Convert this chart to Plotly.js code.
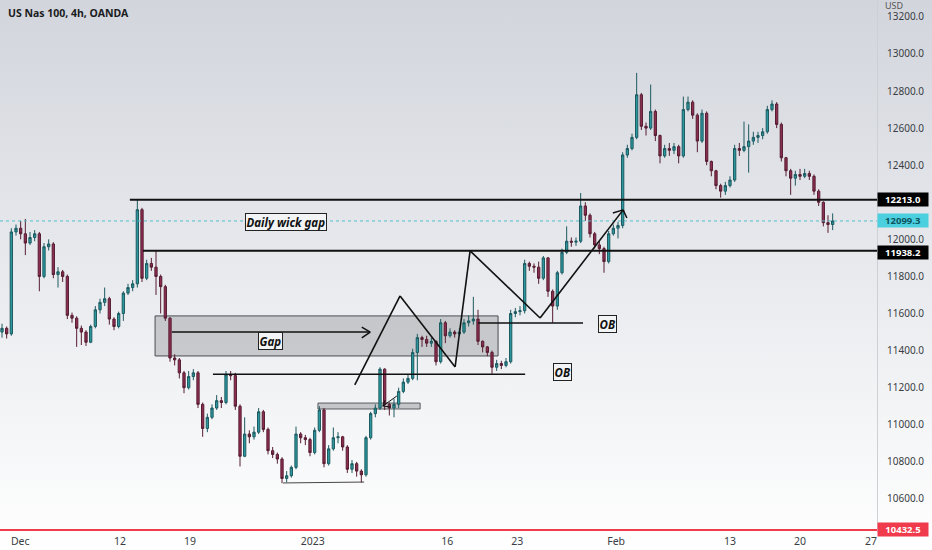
<!DOCTYPE html>
<html>
<head>
<meta charset="utf-8">
<script src="https://cdn.plot.ly/plotly-3.0.1.min.js"></script>
<style>
  html, body { margin:0; padding:0; }
  body { width:932px; height:550px; background: linear-gradient(#d2d5dc 0%, #e6e8ec 45%, #ffffff 100%); overflow:hidden; }
  #chart { width:932px; height:550px; }
</style>
</head>
<body>
<div id="chart"></div>
<script>
// ---- Data (US Nas 100, 4h, OANDA) ----
const firstOpen = 11500;
const closes = [
11520,11490,12040,12060,12030,11980,12010,12030,11800,11960,
11975,11810,11825,11800,11590,11575,11520,11500,11445,11530,
11620,11660,11680,11570,11530,11600,11710,11740,11760,12160,
11790,11870,11850,11800,11745,11575,11360,11350,11280,11200,
11260,11280,11110,10980,11040,11090,11130,11120,11270,11265,
11100,10830,10950,10935,10960,11070,10975,10860,10840,10815,
10710,10725,10770,10950,10930,10920,10850,10970,11080,10790,
10870,10930,10935,10880,10760,10790,10750,10730,10930,11060,
11090,11300,11110,11090,11110,11180,11230,11250,11390,11470,
11460,11440,11450,11340,11550,11480,11500,11490,11500,11550,
11560,11570,11450,11420,11390,11310,11330,11320,11340,11600,
11610,11615,11870,11855,11850,11790,11900,11720,11640,11820,
11930,11990,11985,11990,12180,12130,12030,11970,11950,11880,
12030,12060,12075,12455,12490,12550,12780,12610,12600,12690,
12560,12450,12490,12480,12500,12450,12700,12740,12670,12530,
12680,12420,12370,12290,12260,12290,12320,12490,12480,12500,
12530,12550,12560,12580,12700,12730,12620,12440,12370,12330,
12350,12340,12355,12340,12260,12200,12090,12080,12099.3
];
const highs = [
11545,11530,12060,12080,12100,12110,12040,12050,12040,11980,
12000,11985,11850,11835,11810,11605,11585,11535,11510,11540,
11640,11680,11740,11690,11580,11610,11720,11760,11780,12213,
12170,11890,11900,11938,11810,11755,11580,11380,11360,11290,
11290,11300,11290,11120,11060,11110,11160,11150,11290,11290,
11280,11110,11040,10970,10990,11090,11080,10985,10880,10850,
10825,10750,10780,10990,10960,10945,10930,10985,11100,11090,
10890,10985,10960,10940,10890,10810,10800,10760,10940,11070,
11110,11310,11305,11120,11140,11200,11250,11270,11410,11490,
11480,11480,11470,11455,11570,11560,11520,11510,11520,11570,
11590,11690,11620,11455,11425,11400,11350,11345,11360,11620,
11630,11640,11890,11880,11870,11880,11910,11905,11730,11830,
11950,12070,12010,12010,12250,12200,12140,12040,11990,11960,
12045,12080,12095,12470,12510,12570,12898,12790,12630,12835,
12700,12565,12510,12520,12520,12510,12770,12770,12750,12680,
12700,12690,12425,12375,12300,12310,12340,12510,12520,12635,
12620,12580,12580,12600,12720,12750,12740,12630,12445,12380,
12370,12380,12380,12370,12350,12270,12205,12130,12140
];
const lows = [
11470,11465,11480,12020,12000,11915,11970,11990,11720,11790,
11940,11790,11740,11770,11570,11550,11420,11430,11425,11440,
11520,11600,11640,11540,11510,11520,11560,11700,11720,11740,
11770,11780,11830,11700,11600,11560,11340,11320,11250,11170,
11190,11240,11090,10935,10960,11030,11080,11090,11110,11240,
11080,10775,10825,10900,10920,10950,10960,10840,10820,10790,
10685,10690,10715,10760,10900,10890,10830,10840,10960,10770,
10780,10860,10900,10860,10740,10740,10720,10688,10720,10920,
11040,11080,11080,11050,11040,11090,11170,11220,11240,11240,
11420,11420,11420,11320,11330,11440,11470,11470,11480,11490,
11530,11540,11430,11390,11370,11275,11290,11300,11310,11330,
11580,11590,11600,11830,11820,11760,11780,11690,11550,11620,
11810,11920,11960,11965,11980,12100,12010,11950,11920,11820,
11870,12020,12005,12060,12440,12480,12540,12590,12560,12590,
12530,12410,12440,12450,12460,12410,12440,12690,12650,12470,
12520,12400,12340,12270,12225,12240,12280,12310,12450,12470,
12360,12510,12520,12540,12570,12690,12600,12420,12340,12240,
12290,12320,12330,12320,12240,12180,12070,12035,12050
];
const tickIdx = [3.9, 25.3, 40.3, 66.6, 95.4, 110.4, 131.6, 156, 171, 186.2];
const tickLabels = ['Dec','12','19','2023','16','23','Feb','13','20','27'];
// 12200 is hidden behind the 12213.0 label in the reference
const priceTicks = [10600,10800,11000,11200,11400,11600,11800,12000,12400,12600,12800,13000,13200];
const levelWickHigh = 12213.0;
const levelFomcHigh = 11938.2;
const lastPrice = 12099.3;
const lowLevel = 10432.5;

// ---- Build OHLC ----
const xs = closes.map((_, i) => i);
const opens = closes.map((c, i) => i === 0 ? firstOpen : closes[i - 1]);
const hi = highs.map((h, i) => Math.max(h, opens[i], closes[i]));
const lo = lows.map((l, i) => Math.min(l, opens[i], closes[i]));

const XMIN = -0.43, XMAX = 187.5;

const trace = {
  type: 'candlestick',
  x: xs, open: opens, high: hi, low: lo, close: closes,
  increasing: { line: { color: '#1d5a60', width: 1 }, fillcolor: '#2a9aa0' },
  decreasing: { line: { color: '#561d31', width: 1 }, fillcolor: '#8e2e52' },
  whiskerwidth: 0,
  hoverinfo: 'skip',
  showlegend: false
};

const black = '#111';
function seg(x0, y0, x1, y1, color, width, dash) {
  return { type: 'line', xref: 'x', yref: 'y', x0, y0, x1, y1,
           line: { color: color || black, width: width || 1.5, dash: dash || 'solid' } };
}

const zig = [[75.6, 11215], [85.3, 11695], [97.1, 11312], [100.3, levelFomcHigh], [115.3, 11576], [133.1, 12159]];
const shapes = [
  { type: 'rect', xref: 'x', yref: 'y', x0: 32.8, x1: 106.3, y0: 11371, y1: 11587, layer: 'below',
    fillcolor: 'rgba(150,152,158,0.45)', line: { color: '#4a4c52', width: 1 } },
  { type: 'rect', xref: 'x', yref: 'y', x0: 67.7, x1: 89.6, y0: 11085, y1: 11117, layer: 'below',
    fillcolor: 'rgba(165,167,172,0.6)', line: { color: '#5a5c62', width: 1 } },
  seg(27.4, levelWickHigh, XMAX, levelWickHigh, black, 2),
  seg(30.2, levelFomcHigh, XMAX, levelFomcHigh, black, 2),
  seg(XMIN, lastPrice, XMAX, lastPrice, '#52bfcb', 1, 'dot'),
  seg(XMIN, lowLevel, XMAX, lowLevel, '#ef3b4b', 2),
  // arrow inside gap
  seg(36.4, 11500, 78.9, 11500, black, 1.5),
  seg(77.1, 11527, 78.9, 11500, black, 1.5),
  seg(77.1, 11468, 78.9, 11500, black, 1.5),
  // horizontal levels
  seg(45.2, 11272, 112.1, 11272, black, 1.5),
  seg(102, 11549, 124.5, 11549, black, 1.5),
  seg(60.2, 10686, 77.6, 10691, '#444', 1),
  // small arrow
  seg(84.6, 11155, 81.6, 11101, black, 1),
  seg(81.6, 11101, 82.1, 11133, black, 1),
  seg(81.6, 11101, 83.2, 11096, black, 1),
  // zigzag arrow head
  seg(133.1, 12159, 130.9, 12142, black, 1.5),
  seg(133.1, 12159, 133.9, 12115, black, 1.5)
];
for (let k = 0; k < zig.length - 1; k++) {
  shapes.push(seg(zig[k][0], zig[k][1], zig[k + 1][0], zig[k + 1][1], black, 1.6));
}

const FONT = 'Noto Sans, Open Sans, sans-serif';
function tag(x, y, text) {
  return { xref: 'x', yref: 'y', x, y, text, showarrow: false,
           font: { family: FONT, size: 11.5, color: '#111', weight: 'bold', style: 'italic' },
           bgcolor: '#f3f4f5', bordercolor: '#222', borderwidth: 1, borderpad: 0.5 };
}
function priceTag(y, text, bg, fg, dy) {
  return { xref: 'paper', yref: 'y', x: 1, y, xanchor: 'left', yanchor: 'middle', text,
           showarrow: false, width: 48, height: 11, align: 'center', yshift: dy || 0,
           font: { family: FONT, size: 9.5, color: fg, weight: 'bold' },
           bgcolor: bg, borderpad: 1 };
}

const annotations = [
  { xref: 'paper', yref: 'paper', x: 0, y: 1, xanchor: 'left', yanchor: 'top', xshift: 6, yshift: -4,
    text: 'US Nas 100, 4h, OANDA', showarrow: false,
    font: { family: FONT, size: 10.5, color: '#1a1c22', weight: 'bold' } },
  { xref: 'paper', yref: 'paper', x: 1, y: 1, xanchor: 'left', yanchor: 'top', xshift: 7, yshift: 0,
    text: 'USD', showarrow: false, bgcolor: '#d3d6dd', borderpad: 0, height: 9,
    font: { family: FONT, size: 9, color: '#555' } },
  tag(60.9, 12094, 'Daily wick gap'),
  tag(57.6, 11452, 'Gap'),
  tag(120.2, 11285, 'OB'),
  tag(129.8, 11544, 'OB'),
  priceTag(levelWickHigh, levelWickHigh.toFixed(1), '#000000', '#ffffff'),
  priceTag(lastPrice, lastPrice.toFixed(1), '#4ccfdf', '#0d5561'),
  priceTag(levelFomcHigh, levelFomcHigh.toFixed(1), '#000000', '#ffffff', -1.5),
  priceTag(lowLevel, lowLevel.toFixed(1), '#ef3b4b', '#ffffff')
];

const layout = {
  width: 932, height: 550,
  margin: { l: 0, r: 55, t: 0, b: 18 },
  paper_bgcolor: 'rgba(0,0,0,0)',
  plot_bgcolor: 'rgba(0,0,0,0)',
  showlegend: false,
  hovermode: false,
  xaxis: {
    range: [XMIN, XMAX], rangeslider: { visible: false },
    tickmode: 'array', tickvals: tickIdx, ticktext: tickLabels,
    showgrid: false, zeroline: false, showline: false, ticks: '',
    tickfont: { family: FONT, size: 10.5, color: '#3a3d44' },
    ticklabelstandoff: 1, fixedrange: true
  },
  yaxis: {
    side: 'right', range: [10421.5, 13291],
    tickmode: 'array', tickvals: priceTicks, ticktext: priceTicks.map(v => v.toFixed(1)),
    showgrid: false, zeroline: false, showline: true, linecolor: '#cdd0d5', linewidth: 1,
    ticks: '', tickfont: { family: FONT, size: 10, color: '#3a3d44' },
    ticklabelstandoff: 7, fixedrange: true
  },
  shapes, annotations
};

Plotly.newPlot('chart', [trace], layout, { displayModeBar: false, staticPlot: true });
</script>
</body>
</html>
